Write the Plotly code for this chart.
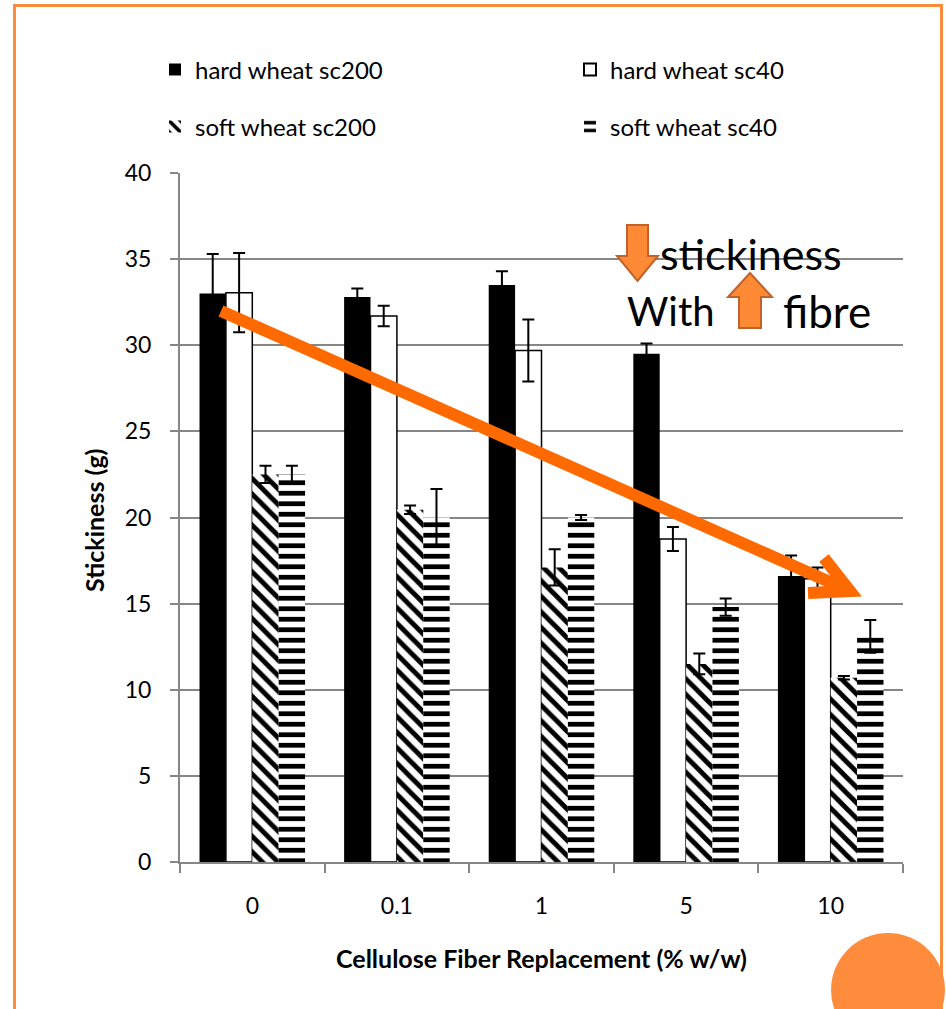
import plotly.graph_objects as go

# ---------------- data ----------------
categories = ["0", "0.1", "1", "5", "10"]

hard_sc200 = [33.0, 32.8, 33.5, 29.5, 16.6]
hard_sc200_err = [2.3, 0.5, 0.8, 0.6, 1.2]

hard_sc40 = [33.05, 31.7, 29.7, 18.75, 16.45]
hard_sc40_err = [2.3, 0.6, 1.8, 0.7, 0.65]

soft_sc200 = [22.5, 20.45, 17.1, 11.5, 10.7]
soft_sc200_err = [0.5, 0.25, 1.05, 0.6, 0.1]

soft_sc40 = [22.5, 20.0, 20.0, 14.8, 13.1]
soft_sc40_err = [0.5, 1.65, 0.15, 0.5, 0.95]

y_ticks = [0, 5, 10, 15, 20, 25, 30, 35, 40]

# ---------------- layout helpers (pixel -> paper) ----------------
W, H = 946, 1009
L, R, T, B = 180, 43, 173, 147
PW, PH = W - L - R, H - T - B


def px(x):
    return (x - L) / PW


def py(y):
    return (H - B - y) / PH


FONT = "Lato, 'Open Sans', sans-serif"
GRID = "#868686"
ORANGE = "#FF8C3C"

err_style = dict(type="data", visible=True, color="black", thickness=2, width=6)

fig = go.Figure()
fig.add_trace(go.Bar(
    name="hard wheat sc200", x=categories, y=hard_sc200,
    error_y=dict(array=hard_sc200_err, **err_style),
    marker=dict(color="black", line=dict(width=0)), legend="legend",
))
fig.add_trace(go.Bar(
    name="hard wheat sc40", x=categories, y=hard_sc40,
    error_y=dict(array=hard_sc40_err, **err_style),
    marker=dict(color="white", line=dict(color="black", width=1.5)), legend="legend",
))
fig.add_trace(go.Bar(
    name="soft wheat sc200", x=categories, y=soft_sc200,
    error_y=dict(array=soft_sc200_err, **err_style),
    marker=dict(color="white", line=dict(width=0),
                pattern=dict(shape="\\", fgcolor="black", bgcolor="white", fgopacity=1,
                             size=11, solidity=0.45, fillmode="replace")),
    legend="legend2",
))
fig.add_trace(go.Bar(
    name="soft wheat sc40", x=categories, y=soft_sc40,
    error_y=dict(array=soft_sc40_err, **err_style),
    marker=dict(color="white", line=dict(width=0),
                pattern=dict(shape="-", fgcolor="black", bgcolor="white", fgopacity=1,
                             size=10.5, solidity=0.45, fillmode="replace")),
    legend="legend2",
))

# ---------------- decorations ----------------
shapes = []
# orange slide frame
shapes.append(dict(type="rect", xref="paper", yref="paper",
                   x0=px(14.5), x1=px(941.5), y0=py(1040), y1=py(5.5),
                   line=dict(color=ORANGE, width=3), fillcolor="rgba(0,0,0,0)", layer="above"))
# orange circle bottom-right
shapes.append(dict(type="circle", xref="paper", yref="paper",
                   x0=px(831), x1=px(945), y0=py(1047), y1=py(933),
                   line=dict(width=0), fillcolor="#FF8B3D", layer="above"))
# big trend arrow
shaft = f"M{px(221)},{py(311)} L{px(850)},{py(591)}"
head = f"M{px(824)},{py(558)} L{px(850)},{py(591)} L{px(808)},{py(593)}"
shapes.append(dict(type="path", xref="paper", yref="paper", path=shaft + " " + head,
                   line=dict(color="#FF6A00", width=12), layer="above"))


def poly(points):
    return "M" + " L".join(f"{px(a)},{py(b)}" for a, b in points) + " Z"


down_arrow = [(627, 225), (648, 225), (648, 256), (658, 256), (637.5, 281), (617, 256), (627, 256)]
up_arrow = [(750, 273), (772, 297), (761, 297), (761, 328), (739, 328), (739, 297), (728, 297)]
for pts in (down_arrow, up_arrow):
    shapes.append(dict(type="path", xref="paper", yref="paper", path=poly(pts),
                       fillcolor="#FF8A35", line=dict(color="#C0622A", width=2), layer="above"))

annotations = [
    dict(text="stickiness", x=px(658), y=py(253), xanchor="left", yanchor="middle", size=43),
    dict(text="With", x=px(625), y=py(311), xanchor="left", yanchor="middle", size=40),
    dict(text="fibre", x=px(781), y=py(311), xanchor="left", yanchor="middle", size=44),
]
for a in annotations:
    s = a.pop("size")
    a.update(xref="paper", yref="paper", showarrow=False,
             font=dict(family=FONT, size=s, color="black"))

annotations.append(dict(text="<b>Stickiness (g)</b>", x=px(94), y=py(521), xref="paper", yref="paper",
                        textangle=-90, showarrow=False, xanchor="center", yanchor="middle",
                        font=dict(family=FONT, size=25, color="black")))
annotations.append(dict(text="<b>Cellulose Fiber Replacement (% w/w)</b>", x=px(541), y=py(958),
                        xref="paper", yref="paper", showarrow=False, xanchor="center", yanchor="middle",
                        font=dict(family=FONT, size=25, color="black")))

legend_common = dict(orientation="h", xanchor="left", yanchor="middle", xref="paper", yref="paper",
                     font=dict(family=FONT, size=24, color="black"), bgcolor="rgba(0,0,0,0)",
                     borderwidth=0, entrywidth=370, entrywidthmode="pixels", itemsizing="constant")

fig.update_layout(
    width=W, height=H,
    margin=dict(l=L, r=R, t=T, b=B, autoexpand=False),
    paper_bgcolor="white", plot_bgcolor="white",
    font=dict(family=FONT, color="black"),
    barmode="group", bargap=0.27, bargroupgap=0,
    showlegend=True,
    legend=dict(x=px(155), y=py(70), **legend_common),
    legend2=dict(x=px(155), y=py(127), **legend_common),
    xaxis=dict(type="category", showline=True, linecolor=GRID, linewidth=2,
               ticks="outside", tickson="boundaries", ticklen=9, tickcolor=GRID, tickwidth=2,
               showgrid=False, tickfont=dict(family=FONT, size=23, color="black"),
               ticklabelstandoff=22),
    yaxis=dict(range=[0, 40], tickvals=y_ticks, showline=True, linecolor=GRID, linewidth=2,
               ticks="outside", ticklen=8, tickcolor=GRID, tickwidth=2,
               showgrid=True, gridcolor=GRID, gridwidth=2, zeroline=False,
               tickfont=dict(family=FONT, size=23, color="black"), ticklabelstandoff=14),
    shapes=shapes,
    annotations=annotations,
)

fig.write_html("out.html", config={"displayModeBar": False},
               post_script="document.body.style.margin='0';document.body.style.overflow='hidden';")
